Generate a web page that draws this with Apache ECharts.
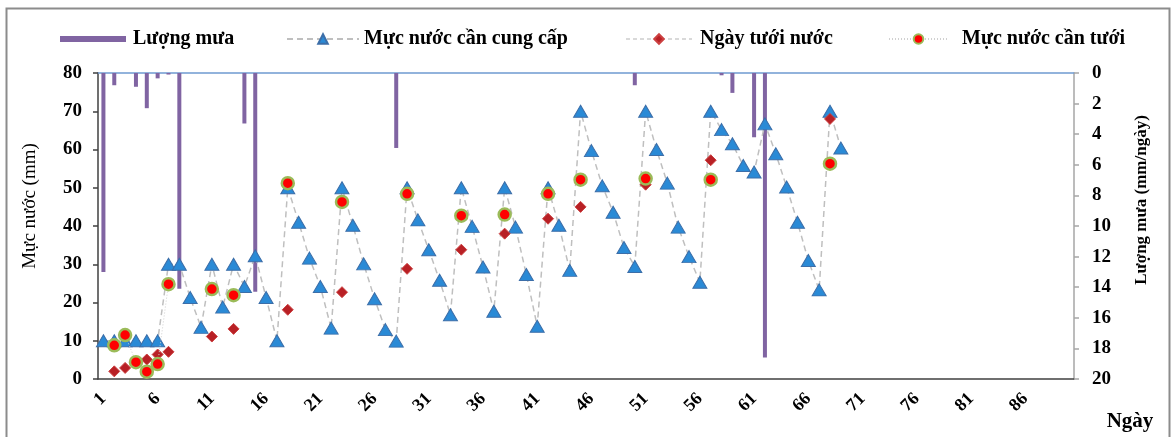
<!DOCTYPE html>
<html>
<head>
<meta charset="utf-8">
<script src="https://cdn.jsdelivr.net/npm/echarts@6/dist/echarts.min.js"></script>
<style>
html,body{margin:0;padding:0;background:#fff;}
#chart{width:1171px;height:437px;}
</style>
</head>
<body>
<div id="chart"></div>
<script>
// ---- Data ----
const dayCount = 90;
const dayLabels = [];
for (let i = 1; i <= dayCount; i++) dayLabels.push(String(i));

const waterTicks = [0, 10, 20, 30, 40, 50, 60, 70, 80];
const rainTicks = [0, 2, 4, 6, 8, 10, 12, 14, 16, 18, 20];

// Lượng mưa (mm/ngày) — rain days and amounts
const rainDays   = [1, 2, 4, 5, 6, 7, 8, 14, 15, 28, 50, 58, 59, 61, 62];
const rainValues = [13.0, 0.8, 0.9, 2.3, 0.35, 0.1, 14.1, 3.3, 14.3, 4.9, 0.8, 0.15, 1.3, 4.2, 18.6];

// Mực nước cần cung cấp (mm) — days 1..69
const supplyValues = [
  10, 10, 10, 10, 10, 10, 30, 30, 21.3, 13.5,
  30, 18.8, 30, 24.2, 32.2, 21.3, 10, 50, 41, 31.6,
  24.2, 13.3, 50, 40.2, 30.1, 21, 12.9, 9.9, 50, 41.6,
  33.8, 25.8, 16.8, 50, 39.9, 29.3, 17.7, 50, 39.7, 27.3,
  13.8, 50, 40.2, 28.4, 70, 59.7, 50.5, 43.6, 34.4, 29.4,
  70, 60, 51.2, 39.7, 32, 25.3, 70, 65.2, 61.5, 55.8,
  54.1, 66.7, 58.9, 50.2, 41, 31, 23.3, 70, 60.4
];

// Ngày tưới nước — irrigation days
const irrigationDays   = [2, 3, 4, 5, 6, 7, 11, 13, 18, 23, 29, 34, 38, 42, 45, 51, 57, 68];
const irrigationValues = [2.0, 2.9, 4.2, 5.1, 6.4, 7.1, 11.1, 13.1, 18.1, 22.7, 28.8, 33.8, 38.0, 41.9, 45.0, 50.8, 57.2, 68.0];

// Mực nước cần tưới (mm)
const neededValues = [8.8, 11.5, 4.4, 1.9, 3.9, 24.8, 23.5, 21.9, 51.2, 46.3, 48.4, 42.7, 43.0, 48.4, 52.1, 52.4, 52.1, 56.3];

// ---- build series arrays aligned to categories ----
function sparse(days, vals) {
  const arr = new Array(dayCount).fill(null);
  days.forEach((d, i) => { arr[d - 1] = vals[i]; });
  return arr;
}
const rainData = sparse(rainDays, rainValues);
const irrigationData = sparse(irrigationDays, irrigationValues);
const neededData = sparse(irrigationDays, neededValues);

const serif = 'Liberation Serif';
const labelFont = {fontFamily: serif, fontWeight: 'bold', fontSize: 19, color: '#000'};
const legendText = {fontFamily: serif, fontWeight: 'bold', fontSize: 20, color: '#000'};

const chart = echarts.init(document.getElementById('chart'));
chart.setOption({
  animation: false,
  backgroundColor: '#fff',
  grid: {left: 98, right: 97, top: 73, bottom: 58, containLabel: false},
  legend: [
    {data: ['Lượng mưa'], left: 55, top: 24, itemWidth: 66, itemHeight: 6, icon: 'rect',
     textStyle: Object.assign({padding: [0, 0, 0, 2]}, legendText)},
    {data: ['Mực nước cần cung cấp'], left: 281, top: 24, itemWidth: 72, itemHeight: 12,
     textStyle: Object.assign({padding: [0, 0, 0, 0]}, legendText)},
    {data: ['Ngày tưới nước'], left: 620, top: 24, itemWidth: 66, itemHeight: 12,
     textStyle: Object.assign({padding: [0, 0, 0, 3]}, legendText)},
    {data: ['Mực nước cần tưới'], left: 883, top: 24, itemWidth: 59, itemHeight: 12,
     textStyle: Object.assign({padding: [0, 0, 0, 9]}, legendText)}
  ],
  xAxis: [
    {
      type: 'category', data: dayLabels, boundaryGap: true, position: 'bottom',
      axisLine: {lineStyle: {color: '#404040', width: 1.5}},
      axisTick: {interval: 4, length: 5, lineStyle: {color: '#404040', width: 1.5}},
      axisLabel: Object.assign({interval: 4, rotate: 45, margin: 17}, labelFont, {fontSize: 18}),
      splitLine: {show: false}
    },
    {
      type: 'category', data: dayLabels, boundaryGap: true, position: 'top',
      axisLine: {lineStyle: {color: '#6F9BD1', width: 1.5}},
      axisTick: {show: false}, axisLabel: {show: false}, splitLine: {show: false}
    }
  ],
  yAxis: [
    {
      type: 'value', min: waterTicks[0], max: waterTicks[waterTicks.length - 1], interval: 10,
      position: 'left',
      axisLine: {show: true, lineStyle: {color: '#404040', width: 1.5}},
      axisTick: {show: true, length: 5, lineStyle: {color: '#404040', width: 1.5}},
      axisLabel: Object.assign({margin: 16}, labelFont),
      splitLine: {show: false}
    },
    {
      type: 'value', min: rainTicks[0], max: rainTicks[rainTicks.length - 1], interval: 2,
      inverse: true, position: 'right',
      axisLine: {show: true, lineStyle: {color: '#A6A6A6', width: 1.5}},
      axisTick: {show: true, length: 5, lineStyle: {color: '#A6A6A6', width: 1.5}},
      axisLabel: Object.assign({margin: 18}, labelFont),
      splitLine: {show: false}
    }
  ],
  series: [
    {
      name: 'Lượng mưa', type: 'bar', xAxisIndex: 0, yAxisIndex: 1,
      data: rainData, barWidth: 4,
      itemStyle: {color: '#8064A2'}, z: 2
    },
    {
      name: 'Mực nước cần cung cấp', type: 'line', xAxisIndex: 0, yAxisIndex: 0,
      data: supplyValues, symbol: 'triangle', symbolSize: [14, 12], showAllSymbol: true,
      itemStyle: {color: '#2A8AD6', borderColor: '#3C6EA8', borderWidth: 1},
      lineStyle: {color: '#BFBFBF', width: 1.5, type: [6, 4]}, z: 3
    },
    {
      name: 'Ngày tưới nước', type: 'line', xAxisIndex: 0, yAxisIndex: 0,
      data: irrigationData, symbol: 'diamond', symbolSize: 11, showAllSymbol: true, connectNulls: false,
      itemStyle: {color: '#B82025', borderColor: '#CC4040', borderWidth: 1},
      lineStyle: {color: '#D9D9D9', width: 1, type: [4, 3]}, z: 4
    },
    {
      name: 'Mực nước cần tưới', type: 'line', xAxisIndex: 0, yAxisIndex: 0,
      data: neededData, symbol: 'circle', symbolSize: 12, showAllSymbol: true, connectNulls: false,
      itemStyle: {color: '#FF0000', borderColor: '#9BBB59', borderWidth: 2.5},
      lineStyle: {color: '#D0D0D0', width: 1, type: [1, 2]}, z: 5
    }
  ],
  graphic: [
    {type: 'rect', left: 4, top: 6, z: -10, silent: true,
     shape: {width: 1163, height: 440},
     style: {fill: 'none', stroke: '#8C8C8C', lineWidth: 2}},
    {type: 'text', x: 30, y: 206, rotation: Math.PI / 2, silent: true,
     style: {text: 'Mực nước (mm)', fontFamily: serif, fontSize: 19, fill: '#000',
             textAlign: 'center', textVerticalAlign: 'middle', align: 'center', verticalAlign: 'middle'}},
    {type: 'text', x: 1142, y: 200, rotation: Math.PI / 2, silent: true,
     style: {text: 'Lượng mưa (mm/ngày)', fontFamily: serif, fontWeight: 'bold', fontSize: 17, fill: '#000',
             textAlign: 'center', textVerticalAlign: 'middle', align: 'center', verticalAlign: 'middle'}},
    {type: 'text', x: 1130, y: 422, silent: true,
     style: {text: 'Ngày', fontFamily: serif, fontWeight: 'bold', fontSize: 21, fill: '#000',
             textAlign: 'center', textVerticalAlign: 'middle', align: 'center', verticalAlign: 'middle'}}
  ]
});
</script>
</body>
</html>
